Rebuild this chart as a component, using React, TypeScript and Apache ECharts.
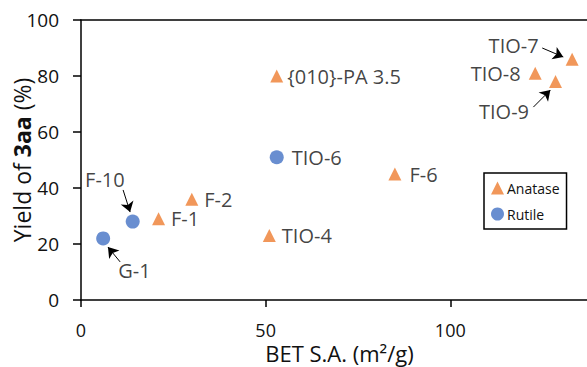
import React, { useEffect, useRef } from "react";
import * as echarts from "echarts";

const anataseNames = ["{010}-PA 3.5", "F-1", "F-2", "TIO-4", "F-6", "TIO-8", "TIO-9", "TIO-7"];
const anataseX = [53, 21, 30, 51, 85, 123, 128.5, 133];
const anataseY = [80, 29, 36, 23, 45, 81, 78, 86];

const rutileNames = ["G-1", "F-10", "TIO-6"];
const rutileX = [6, 14, 53];
const rutileY = [22, 28, 51];

const xTickInterval = 50;
const yTickInterval = 20;

// arrows: [fromX, fromY, toX, toY] in data units
const arrowLines = [
  [11.4, 39.3, 13.3, 31.4],
  [10.6, 13.6, 7.3, 18.9],
  [124.9, 90, 130.6, 86.8],
  [122.5, 68.9, 127.1, 75],
];

const labelStyle: Record<string, any> = {
  "{010}-PA 3.5": { distance: 4 },
  "TIO-8": { position: "left", distance: 8 },
  "TIO-7": { position: "left", distance: 5, offset: [-22, -14] },
  "TIO-9": { position: "left", distance: 5, offset: [-15, 30] },
  "F-10": { position: "left", distance: 5, offset: [4, -42] },
  "G-1": { position: "right", distance: 5, offset: [3, 32] },
  "TIO-6": { distance: 8 },
  "F-6": { distance: 8 },
};

const FONT = "'Open Sans', 'Noto Sans', sans-serif";
const TXT = "#111111";

function buildData(names: string[], xs: number[], ys: number[]) {
  return names.map((n, i) => ({
    name: n,
    value: [xs[i], ys[i]],
    label: { show: true, formatter: n, position: "right", distance: 6, ...(labelStyle[n] || {}) },
  }));
}

export default function App() {
  const ref = useRef<HTMLDivElement>(null);
  useEffect(() => {
    document.body.style.margin = "0";
    const chart = echarts.init(ref.current!, null, { renderer: "svg" });
    chart.setOption({
      animation: false,
      textStyle: { fontFamily: FONT },
      grid: { left: 81, width: 517, top: 20, height: 280, outerBoundsMode: "none", containLabel: false },
      xAxis: [
        {
          type: "value",
          min: 0,
          max: 140,
          interval: xTickInterval,
          name: "BET S.A. (m²/g)",
          nameLocation: "middle",
          nameGap: 42,
          nameMoveOverlap: false,
          nameTextStyle: { fontSize: 22, lineHeight: 22, color: TXT, fontFamily: FONT },
          axisLine: { show: true, lineStyle: { color: "#000", width: 1.5 } },
          axisTick: { show: true, inside: false, length: 7, lineStyle: { color: "#000", width: 1.5 } },
          axisLabel: { fontSize: 18, lineHeight: 18, color: TXT, margin: 21, showMaxLabel: false },
          splitLine: { show: false },
        },
        {
          type: "value",
          position: "top",
          min: 0,
          max: 140,
          axisLine: { show: true, lineStyle: { color: "#000", width: 1.5 } },
          axisTick: { show: false },
          axisLabel: { show: false },
          splitLine: { show: false },
        },
      ],
      yAxis: {
        type: "value",
        min: 0,
        max: 100,
        interval: yTickInterval,
        name: "{a|Yield of }{b|3aa}{a| (%)}",
        nameLocation: "middle",
        nameGap: 48,
        nameMoveOverlap: false,
        nameTextStyle: {
          fontSize: 23,
          color: TXT,
          rich: {
            a: { fontSize: 23, color: TXT, fontFamily: FONT },
            b: { fontSize: 23, color: TXT, fontFamily: FONT, fontWeight: "bold" },
          },
        },
        axisLine: { show: true, lineStyle: { color: "#000", width: 1.5 } },
        axisTick: { show: true, inside: false, length: 8, lineStyle: { color: "#000", width: 1.5 } },
        axisLabel: { fontSize: 19, color: TXT, margin: 22 },
        splitLine: { show: false },
      },
      legend: {
        orient: "vertical",
        left: 484,
        top: 173,
        width: 72,
        padding: [8, 7, 8, 7],
        itemGap: 12,
        itemWidth: 13,
        itemHeight: 13,
        borderColor: "#000",
        borderWidth: 1.5,
        textStyle: { fontSize: 14, color: TXT, fontFamily: FONT, padding: [0, 0, 0, -2] },
        data: ["Anatase", "Rutile"],
      },
      series: [
        {
          name: "Anatase",
          type: "scatter",
          symbol: "triangle",
          symbolSize: 13,
          itemStyle: { color: "#ED7D31" },
          label: { fontSize: 20, color: TXT, fontFamily: FONT },
          data: buildData(anataseNames, anataseX, anataseY),
          markLine: {
            silent: true,
            symbol: ["none", "arrow"],
            symbolSize: 10,
            label: { show: false },
            lineStyle: { color: "#000", width: 1, type: "solid" },
            emphasis: { disabled: true },
            data: arrowLines.map((a) => [
              { coord: [a[0], a[1]], symbol: "none" },
              { coord: [a[2], a[3]], symbol: "arrow", symbolSize: 10 },
            ]),
          },
        },
        {
          name: "Rutile",
          type: "scatter",
          symbol: "circle",
          symbolSize: 14,
          itemStyle: { color: "#4472C4" },
          label: { fontSize: 20, color: TXT, fontFamily: FONT },
          data: buildData(rutileNames, rutileX, rutileY),
        },
      ],
    });
    return () => chart.dispose();
  }, []);
  return <div ref={ref} style={{ width: 587, height: 367 }} />;
}
